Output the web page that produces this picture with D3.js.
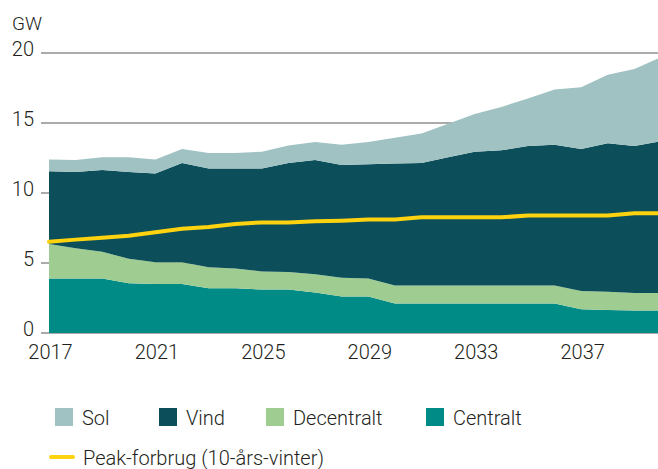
<!DOCTYPE html>
<html>
<head>
<meta charset="utf-8">
<script src="https://cdn.jsdelivr.net/npm/d3@7"></script>
<style>
  html, body { margin: 0; padding: 0; background: #fff; }
  svg { display: block; font-family: Roboto, "DejaVu Sans", sans-serif; }
</style>
</head>
<body>
<svg id="chart" width="658" height="469"></svg>
<script>
// ---- Data (GW) ----
const years = d3.range(2017, 2041);
const centralt   = [3.9,3.9,3.9,3.55,3.5,3.5,3.2,3.2,3.1,3.1,2.9,2.6,2.6,2.1,2.1,2.1,2.1,2.1,2.1,2.1,1.7,1.65,1.6,1.6];
const decentralt = [2.45,2.15,1.9,1.75,1.55,1.55,1.5,1.4,1.3,1.25,1.3,1.35,1.3,1.3,1.3,1.3,1.3,1.3,1.3,1.3,1.3,1.3,1.25,1.25];
const vind       = [5.2,5.45,5.85,6.2,6.35,7.1,7.05,7.15,7.35,7.8,8.15,8.05,8.15,8.7,8.75,9.15,9.55,9.65,9.95,10.05,10.15,10.6,10.5,10.85];
const sol        = [0.85,0.85,0.9,1.05,1.0,1.0,1.1,1.1,1.2,1.25,1.3,1.45,1.6,1.85,2.1,2.4,2.7,3.1,3.4,3.95,4.4,4.9,5.5,6.0];
const peak       = [6.52,6.67,6.81,6.95,7.19,7.45,7.57,7.79,7.9,7.9,7.98,8.02,8.1,8.1,8.26,8.26,8.26,8.26,8.4,8.4,8.4,8.4,8.55,8.55];
const yTicks = [0, 5, 10, 15, 20];
const xTicks = [2017, 2021, 2025, 2029, 2033, 2037];
const seriesKeys   = ["centralt", "decentralt", "vind", "sol"];
const seriesLabels = {centralt: "Centralt", decentralt: "Decentralt", vind: "Vind", sol: "Sol"};
const legendOrder  = ["sol", "vind", "decentralt", "centralt"];
const colors = {sol: "#a0c2c2", vind: "#0c4f5b", decentralt: "#9fcd91", centralt: "#008b87"};
const peakColor = "#fdd20f";
const peakLabel = "Peak-forbrug (10-års-vinter)";
const unitLabel = "GW";

const table = years.map((y, i) => ({
  year: y, centralt: centralt[i], decentralt: decentralt[i], vind: vind[i], sol: sol[i], peak: peak[i]
}));

const svg = d3.select("#chart");
const x = d3.scaleLinear().domain([2017, 2040]).range([49, 661]);
const y = d3.scaleLinear().domain([0, 20]).range([333, 53]);
const textColor = "#231f20";

svg.append("defs").append("clipPath").attr("id", "clip")
  .append("rect").attr("x", 0).attr("y", 0).attr("width", 658).attr("height", 469);

// gridlines
svg.append("g").selectAll("line").data(yTicks).join("line")
  .attr("x1", 41).attr("x2", 658)
  .attr("y1", d => y(d)).attr("y2", d => y(d))
  .attr("stroke", "#8f8f8f").attr("stroke-width", 1.3);

// stacked areas
const stacked = d3.stack().keys(seriesKeys)(table);
const area = d3.area()
  .x(d => x(d.data.year))
  .y0(d => y(d[0]))
  .y1(d => y(d[1]));
svg.append("g").attr("clip-path", "url(#clip)")
  .selectAll("path").data(stacked).join("path")
  .attr("d", area)
  .attr("fill", d => colors[d.key]);

// peak line
const line = d3.line().x(d => x(d.year)).y(d => y(d.peak));
svg.append("path").datum(table)
  .attr("d", line)
  .attr("fill", "none")
  .attr("stroke", peakColor)
  .attr("stroke-width", 4)
  .attr("stroke-linecap", "round")
  .attr("stroke-linejoin", "round");

// y axis labels
svg.append("g").selectAll("text").data(yTicks).join("text")
  .attr("x", 34).attr("y", d => y(d) + 3)
  .attr("text-anchor", "end")
  .attr("font-size", 20).attr("font-weight", 300).attr("fill", textColor)
  .text(d => d);

svg.append("text").attr("x", 12).attr("y", 30)
  .attr("font-size", 19).attr("font-weight", 300).attr("fill", textColor).text(unitLabel);

// x axis labels
svg.append("g").selectAll("text").data(xTicks).join("text")
  .attr("x", d => x(d) + 1.5).attr("y", 359)
  .attr("text-anchor", "middle")
  .attr("font-size", 20).attr("font-weight", 300).attr("fill", textColor)
  .text(d => d);

// legend
const legX = {sol: 55, vind: 159, decentralt: 266, centralt: 426};
const leg = svg.append("g");
legendOrder.forEach(k => {
  leg.append("rect").attr("x", legX[k]).attr("y", 408).attr("width", 18).attr("height", 18)
    .attr("fill", colors[k]);
  leg.append("text").attr("x", legX[k] + 27).attr("y", 424.5)
    .attr("font-size", 20).attr("font-weight", 300).attr("fill", textColor).text(seriesLabels[k]);
});
leg.append("line").attr("x1", 51).attr("x2", 73).attr("y1", 457).attr("y2", 457)
  .attr("stroke", peakColor).attr("stroke-width", 4).attr("stroke-linecap", "round");
leg.append("text").attr("x", 83).attr("y", 464.5)
  .attr("font-size", 20).attr("font-weight", 300).attr("fill", textColor).text(peakLabel);
</script>
</body>
</html>
